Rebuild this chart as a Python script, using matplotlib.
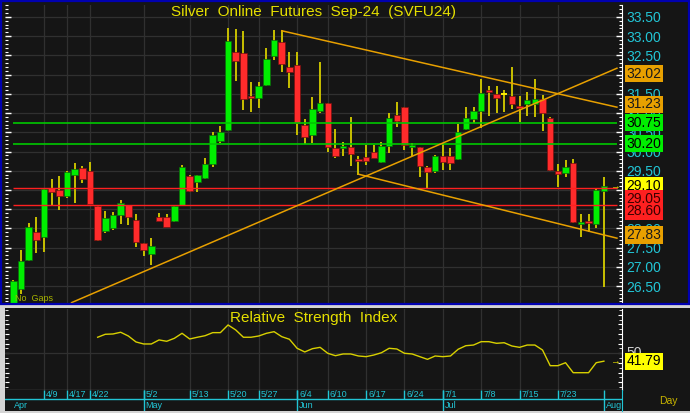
import numpy as np
import matplotlib.pyplot as plt
from matplotlib.patches import Rectangle
from matplotlib.ticker import MultipleLocator, FormatStrFormatter

plt.rcParams['font.family'] = ['Liberation Sans', 'DejaVu Sans']

# daily bars, one per trading session shown (index based x axis)
opens = [26.05, 26.43, 27.19, 27.91, 27.77, 29.04, 29.00, 28.83, 29.39, 29.58,
         29.48, 28.59, 27.94, 28.02, 28.36, 28.60, 28.21, 27.61, 27.34, 28.30,
         28.29, 28.19, 28.60, 29.36, 29.21, 29.31, 29.68, 30.27, 30.56, 32.60,
         32.55, 31.45, 31.40, 31.73, 32.49, 32.85, 32.19, 32.25, 30.69, 30.43,
         31.05, 31.25, 30.10, 30.09, 30.12, 29.80, 29.85, 29.98, 29.73, 30.14,
         30.95, 31.15, 30.11, 30.11, 29.59, 29.49, 29.88, 29.87, 29.80, 30.59,
         30.85, 31.05, 31.60, 31.49, 31.50, 31.44, 31.18, 31.24, 31.24, 31.36,
         30.87, 29.50, 29.43, 29.71, 28.12, 28.17, 28.11, 28.98]
highs = [26.65, 27.44, 28.13, 28.30, 29.05, 29.28, 29.36, 29.48, 29.71, 29.62,
         29.73, 28.62, 28.45, 28.43, 28.74, 28.62, 28.37, 27.63, 27.74, 28.41,
         28.38, 28.60, 29.66, 29.38, 29.40, 29.84, 30.52, 30.66, 33.21, 33.19,
         33.13, 31.82, 31.80, 32.70, 33.16, 33.16, 32.60, 32.60, 30.84, 31.41,
         32.34, 31.27, 30.58, 30.26, 30.91, 29.89, 30.17, 30.17, 30.26, 30.99,
         31.30, 31.17, 30.21, 30.13, 29.62, 29.90, 30.19, 30.08, 30.71, 31.16,
         31.15, 31.88, 31.70, 31.70, 31.60, 32.21, 31.44, 31.55, 31.88, 31.47,
         30.89, 29.67, 29.78, 29.81, 28.37, 28.37, 29.03, 29.33]
lows = [25.95, 26.29, 27.15, 27.37, 27.39, 28.61, 28.48, 28.80, 28.65, 29.19,
        28.64, 27.68, 27.89, 27.96, 28.11, 28.09, 27.52, 27.28, 27.05, 28.18,
        28.04, 28.17, 28.58, 28.95, 28.95, 29.29, 29.60, 30.23, 30.54, 31.84,
        31.08, 31.04, 31.14, 31.70, 32.38, 32.08, 31.64, 30.43, 30.20, 30.21,
        30.99, 30.00, 29.82, 29.87, 29.62, 29.39, 29.65, 29.82, 29.71, 29.97,
        30.65, 30.04, 29.87, 29.33, 29.04, 29.43, 29.52, 29.52, 29.78, 30.57,
        30.75, 30.60, 30.92, 30.99, 31.04, 31.10, 30.78, 30.92, 30.89, 30.54,
        29.50, 29.08, 29.33, 28.13, 27.78, 27.91, 28.00, 26.47]
closes = [26.62, 27.16, 28.04, 27.70, 29.03, 28.94, 28.84, 29.46, 29.55, 29.28,
          28.64, 27.70, 28.26, 28.35, 28.65, 28.29, 27.65, 27.44, 27.54, 28.19,
          28.04, 28.59, 29.60, 28.98, 29.38, 29.67, 30.43, 30.51, 32.88, 32.36,
          31.37, 31.40, 31.70, 32.40, 32.90, 32.28, 32.08, 30.75, 30.39, 31.10,
          31.25, 30.11, 29.88, 30.14, 29.94, 29.75, 29.75, 29.84, 30.14, 30.87,
          30.80, 30.17, 30.14, 29.62, 29.47, 29.88, 29.73, 29.71, 30.51, 30.87,
          31.05, 31.53, 31.55, 31.40, 31.50, 31.23, 31.13, 31.34, 31.37, 30.99,
          29.52, 29.41, 29.60, 28.17, 28.17, 28.13, 29.01, 29.10]

rsi_start = 11
rsi_values = [66.7, 69.8, 70.1, 71.9, 68.0, 61.8, 59.7, 59.7, 63.9, 62.5,
              65.6, 70.8, 64.9, 66.7, 68.3, 71.5, 71.5, 79.5, 74.3, 66.7,
              66.7, 68.0, 70.8, 72.5, 67.3, 64.6, 55.2, 51.4, 54.8, 56.2,
              50.0, 47.5, 49.3, 49.3, 47.2, 46.5, 48.2, 50.6, 55.2, 54.5,
              50.0, 49.3, 46.5, 43.7, 47.2, 46.5, 47.2, 54.2, 57.9, 58.6,
              62.1, 62.1, 60.4, 61.0, 57.6, 56.2, 58.6, 58.6, 53.4, 37.1,
              37.1, 40.2, 29.8, 29.8, 29.8, 40.2, 41.79]

day_ticks = [4, 7, 10, 17, 23, 28, 32, 37, 41, 46, 51, 56, 61, 66, 71]
day_labels = ['4/9', '4/17', '4/22', '5/2', '5/13', '5/20', '5/27', '6/4',
              '6/10', '6/17', '6/24', '7/1', '7/8', '7/15', '7/23']
month_ticks = [17, 37, 56, 77]
month_labels = ['May', 'Jun', 'Jul', 'Aug']

green_levels = [30.75, 30.20]
red_levels = [29.05, 28.60]
last_price = 29.10
last_rsi = 41.79

# trendlines as (bar, price) anchors
trend_upper = [(35, 33.14), (77, 31.23)]
trend_lower = [(45, 29.41), (77, 27.83)]
trend_rising = [(7.6, 26.07), (77, 32.02)]

W, H = 690, 413
dark = '#151515'
gridc = '#303030'
cyan = '#22c5d5'
yellow = '#e6e000'
orange = '#e8a000'


def box(x0, y0, x1, y1):
    # pixel box (top-left origin) -> figure fraction
    return [x0 / W, 1 - y1 / H, (x1 - x0) / W, (y1 - y0) / H]


fig = plt.figure(figsize=(W / 100, H / 100), dpi=100, facecolor='#d4d4d4')
fig.patches.append(Rectangle((1 / W, 1 - 304 / H), 688 / W, 303 / H, transform=fig.transFigure,
                             facecolor=dark, edgecolor='none', zorder=-2))
fig.patches.append(Rectangle((5 / W, 1 - 411 / H), 685 / W, 103 / H, transform=fig.transFigure,
                             facecolor=dark, edgecolor='none', zorder=-2))
fig.patches.append(Rectangle((1 / W, 1 - 304 / H), 687.5 / W, 303 / H, transform=fig.transFigure,
                             facecolor='none', edgecolor='#0000b0', lw=1.6, zorder=10))

xlim = (-1.08, 79.36)
x_end = 78.7

# ---- price panel ----
ax = fig.add_axes(box(5, 5, 622, 303), facecolor=dark)
ax.set_xlim(*xlim)
ax.set_ylim(26.06, 33.81)
ax.set_xticks(day_ticks)
ax.tick_params(axis='x', length=0, labelbottom=False)
ax.yaxis.set_major_locator(MultipleLocator(0.5))
ax.yaxis.set_minor_locator(MultipleLocator(0.1))
ax.yaxis.set_major_formatter(FormatStrFormatter('%.2f'))
ax.tick_params(axis='y', which='both', left=True, right=True, labelleft=False, labelright=True,
               direction='in', color='white', labelcolor=cyan, labelsize=10, pad=3.2)
ax.tick_params(axis='y', which='major', length=4, width=1)
ax.tick_params(axis='y', which='minor', length=2, width=0.8)
ax.grid(True, which='major', color=gridc, lw=0.9)
for s in ['top', 'bottom', 'left']:
    ax.spines[s].set_visible(False)
ax.spines['right'].set_color('white')

o, h, l, c = map(np.array, (opens, highs, lows, closes))
idx = np.arange(len(o))
up, down, flat = c > o, c < o, c == o
lo = np.minimum(o, c)
hgt = np.maximum(np.abs(c - o), 0.05)
ax.vlines(idx, l, h, color='#c8c000', lw=1.4, zorder=2)
ax.bar(idx[up], hgt[up], bottom=lo[up], width=0.85, color='#00ee00',
       edgecolor='#0b6b0b', lw=0.5, zorder=3)
ax.bar(idx[down], hgt[down], bottom=lo[down], width=0.85, color='#ff2b2b',
       edgecolor='#7a1010', lw=0.5, zorder=3)
ax.hlines(c[flat], idx[flat] - 0.42, idx[flat] + 0.42, color='#ffee00', lw=1.4, zorder=3)

ax.hlines(green_levels, 0, x_end, color='#00c800', lw=1.2, zorder=4)
ax.hlines(red_levels, 0, x_end, color='#ff2020', lw=1.0, zorder=4)

for (x0, y0), (x1, y1) in (trend_upper, trend_lower, trend_rising):
    slope = (y1 - y0) / (x1 - x0)
    ax.plot([x0, x_end], [y0, y1 + slope * (x_end - x1)], color=orange, lw=1.1, zorder=4)

ax.text(0.5, 0.9765, 'Silver  Online  Futures  Sep-24  (SVFU24)', transform=ax.transAxes,
        ha='center', va='center', color=yellow, fontsize=11)
ax.text(0.016, 0.015, 'No  Gaps', transform=ax.transAxes, ha='left', va='center',
        color='#a8b400', fontsize=6.5)

# value boxes on the right scale, pushed apart when they collide
tags = [(trend_rising[1][1], orange, '#1a1a1a'), (trend_upper[1][1], orange, '#1a1a1a'),
        (green_levels[0], '#00ee00', 'black'), (green_levels[1], '#00ee00', 'black'),
        (last_price, '#ffff00', 'black'), (red_levels[0], '#ff2020', '#3a0000'),
        (red_levels[1], '#ff2020', '#3a0000'), (trend_lower[1][1], orange, '#1a1a1a')]
tags.sort(key=lambda t: -t[0])
prev = None
for val, bg, fg in tags:
    pos = val if prev is None else min(val, prev - 0.33)
    prev = pos
    ax.text(1.0073, pos, f'{val:.2f}', transform=ax.get_yaxis_transform(), ha='left',
            va='center', fontsize=10, color=fg, clip_on=False, zorder=6,
            bbox=dict(boxstyle='square,pad=0.12', fc=bg, ec='none'))
ax.text(0.9887, last_price, '→', transform=ax.get_yaxis_transform(), ha='center',
        va='center', fontsize=7, color=yellow, zorder=5)

# ---- RSI panel ----
ax2 = fig.add_axes(box(5, 309, 622, 390), facecolor=dark)
ax2.set_xlim(*xlim)
ax2.set_ylim(11.8, 96.1)
ax2.set_xticks(day_ticks)
ax2.tick_params(axis='x', length=0, labelbottom=False)
ax2.grid(True, axis='x', color=gridc, lw=0.9)
ax2.axhline(50, color=gridc, lw=0.9)
ax2.yaxis.set_major_locator(MultipleLocator(10))
ax2.yaxis.set_minor_locator(MultipleLocator(5))
ax2.tick_params(axis='y', which='both', left=True, right=True, labelleft=False, labelright=False,
                direction='in', color='white')
ax2.tick_params(axis='y', which='major', length=3)
ax2.tick_params(axis='y', which='minor', length=2)
for s in ['top', 'left']:
    ax2.spines[s].set_visible(False)
ax2.spines['right'].set_color('white')
ax2.spines['bottom'].set_color('white')
ax2.plot(np.arange(rsi_start, rsi_start + len(rsi_values)), rsi_values, color='#d8d000', lw=1.0)
ax2.text(0.5, 0.889, 'Relative  Strength  Index', transform=ax2.transAxes, ha='center',
         va='center', color=yellow, fontsize=11)
ax2.text(1.0073, 50, '50', transform=ax2.get_yaxis_transform(), ha='left', va='center',
         fontsize=10, color='#d0d0d0', clip_on=False)
ax2.text(1.0073, last_rsi, f'{last_rsi:.2f}', transform=ax2.get_yaxis_transform(), ha='left',
         va='center', fontsize=10, color='black', clip_on=False, zorder=6,
         bbox=dict(boxstyle='square,pad=0.12', fc='#ffff00', ec='none'))
ax2.text(0.9887, last_rsi, '→', transform=ax2.get_yaxis_transform(), ha='center',
         va='center', fontsize=7, color=yellow)

# ---- date scale ----
ax3 = fig.add_axes(box(5, 390, 622, 411), facecolor=dark)
ax3.set_xlim(*xlim)
ax3.set_ylim(0, 1)
ax3.set_xticks([])
ax3.set_yticks([])
for s in ['top', 'bottom', 'left']:
    ax3.spines[s].set_visible(False)
ax3.spines['right'].set_color(cyan)
ax3.axhline(0.571, color=cyan, lw=1.0)
ax3.vlines(day_ticks, 0.571, 1, color=cyan, lw=1.0)
ax3.vlines(month_ticks, 0, 1, color=cyan, lw=1.0)
for x, lab in zip(day_ticks, day_labels):
    ax3.text(x + 0.25, 0.78, lab, ha='left', va='center', color=cyan, fontsize=6.5)
for x, lab in zip(month_ticks, month_labels):
    ax3.text(x + 0.25, 0.27, lab, ha='left', va='center', color=cyan, fontsize=6.5)
ax3.text(0.1, 0.27, 'Apr', ha='left', va='center', color=cyan, fontsize=6.5)
fig.text(668 / W, 1 - 401 / H, 'Day', ha='center', va='center', color='#c8b400', fontsize=7.5)

fig.savefig('out.png', dpi=100, facecolor=fig.get_facecolor())
